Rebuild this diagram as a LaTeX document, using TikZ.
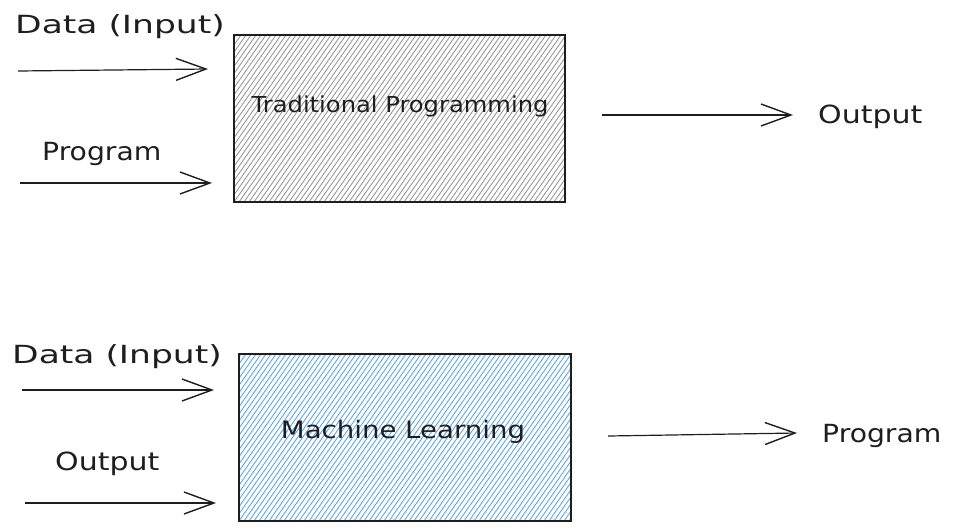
\documentclass[tikz,border=0pt]{standalone}
\usepackage{fontspec}
\setmainfont{DejaVu Sans}[FakeStretch=1.2]
\newfontfamily\tpfont{DejaVu Sans}[FakeStretch=1.1]
\newfontfamily\mlfont{DejaVu Sans}[FakeStretch=1.15]
\newfontfamily\datafont{DejaVu Sans}[FakeStretch=1.38]
\newfontfamily\progfont{DejaVu Sans}[FakeStretch=1.13]
\usetikzlibrary{arrows.meta}
\definecolor{hatchgray}{RGB}{145,145,145}
\definecolor{hatchblue}{RGB}{80,160,238}
\definecolor{ink}{RGB}{30,30,30}
\tikzset{
  lbl/.style={font=\fontsize{25}{30}\selectfont, inner sep=0pt, anchor=base west, text=ink},
  datalbl/.style={lbl, font=\datafont\fontsize{25}{30}\selectfont},
  proglbl/.style={lbl, font=\progfont\fontsize{25}{30}\selectfont},
  boxtxt/.style={inner sep=0pt, text=ink},
  flow/.style={line width=1.2pt, draw=ink, -{Straight Barb[length=30pt,width=22pt,line width=1.4pt]}},
  boxframe/.style={draw=ink, line width=1.1pt},
  hatch/.style={line width=0.8pt}
}
\begin{document}
\begin{tikzpicture}[x=1pt,y=-1pt]
\useasboundingbox (0,0) rectangle (953,531);
% ---------- top box ----------
\coordinate (tpNW) at (234,35);
\coordinate (tpSE) at (565,202);
\begin{scope}
  \clip (tpNW) rectangle (tpSE);
  \foreach \i in {-130,-125,...,340}
    \draw[hatch, hatchgray] (234+\i,202) -- ++(117,-167);
\end{scope}
\draw[boxframe] (tpNW) rectangle (tpSE);
\node[boxtxt, font=\tpfont\fontsize{22}{26}\selectfont] (tp) at (400,106) {Traditional Programming};
% ---------- bottom box ----------
\coordinate (mlNW) at (239,354);
\coordinate (mlSE) at (571,521);
\begin{scope}
  \clip (mlNW) rectangle (mlSE);
  \foreach \i in {-130,-125,...,345}
    \draw[hatch, hatchblue] (239+\i,521) -- ++(117,-167);
\end{scope}
\draw[boxframe] (mlNW) rectangle (mlSE);
\node[boxtxt, font=\mlfont\fontsize{24}{28}\selectfont] (ml) at (403,432) {Machine Learning};
% ---------- top arrows ----------
\coordinate (a1s) at (18,71);  \coordinate (a1e) at (208,69);
\coordinate (a2s) at (20,183); \coordinate (a2e) at (212,183);
\coordinate (a3s) at (602,115); \coordinate (a3e) at (793,115);
\draw[flow] (a1s) -- (a1e);
\draw[flow] (a2s) -- (a2e);
\draw[flow] (a3s) -- (a3e);
\node[datalbl] (l1) at (15,33) {Data (Input)};
\node[proglbl] (l2) at (42,160) {Program};
\node[lbl] (l3) at (818,123) {Output};
% ---------- bottom arrows ----------
\coordinate (b1s) at (22,390);  \coordinate (b1e) at (214,390);
\coordinate (b2s) at (25,503);  \coordinate (b2e) at (216,503);
\coordinate (b3s) at (608,436); \coordinate (b3e) at (797,433);
\draw[flow] (b1s) -- (b1e);
\draw[flow] (b2s) -- (b2e);
\draw[flow] (b3s) -- (b3e);
\node[datalbl] (m1) at (12,363) {Data (Input)};
\node[lbl] (m2) at (55,470) {Output};
\node[proglbl] (m3) at (822,442) {Program};
\end{tikzpicture}
\end{document}
